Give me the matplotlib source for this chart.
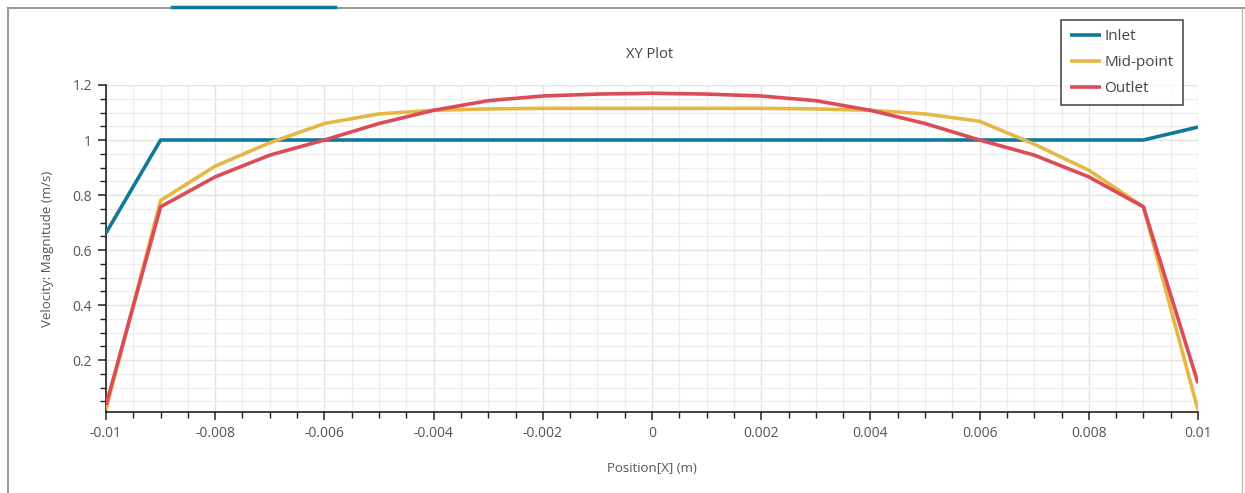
import matplotlib
matplotlib.use("Agg")
import matplotlib.pyplot as plt
from matplotlib.ticker import MultipleLocator, FuncFormatter
from matplotlib.lines import Line2D

plt.rcParams['font.family'] = ['Open Sans', 'DejaVu Sans']

position = [-0.010, -0.009, -0.008, -0.007, -0.006, -0.005, -0.004, -0.003, -0.002, -0.001, 0.000,
            0.001, 0.002, 0.003, 0.004, 0.005, 0.006, 0.007, 0.008, 0.009, 0.010]
inlet = [0.662, 1.0, 1.0, 1.0, 1.0, 1.0, 1.0, 1.0, 1.0, 1.0, 1.0,
         1.0, 1.0, 1.0, 1.0, 1.0, 1.0, 1.0, 1.0, 1.0, 1.047]
midpoint = [0.02, 0.78, 0.905, 0.99, 1.06, 1.095, 1.108, 1.113, 1.115, 1.115, 1.115,
            1.115, 1.115, 1.113, 1.108, 1.095, 1.068, 0.985, 0.89, 0.757, 0.018]
outlet = [0.036, 0.757, 0.866, 0.945, 1.0, 1.06, 1.108, 1.143, 1.16, 1.167, 1.17,
          1.167, 1.16, 1.143, 1.108, 1.06, 1.0, 0.945, 0.866, 0.757, 0.116]
series_names = ["Inlet", "Mid-point", "Outlet"]
series_colors = ["#12789a", "#e5b845", "#dc4c57"]

W, H = 1245, 493
fig = plt.figure(figsize=(W / 100, H / 100), dpi=100)

# screenshot frame
fig.add_artist(Line2D([8 / W, 8 / W], [0, 1 - 8 / H], color="#9a9a9a", lw=1.5))
fig.add_artist(Line2D([8 / W, 1], [1 - 8 / H, 1 - 8 / H], color="#9a9a9a", lw=1.5))
fig.add_artist(Line2D([1242 / W, 1242 / W], [0, 1 - 8 / H], color="#bbbbbb", lw=1.0))
fig.add_artist(Line2D([172 / W, 335 / W], [1 - 7 / H, 1 - 7 / H], color="#12789a", lw=2.5))

ax = fig.add_axes([106 / W, 1 - 412 / H, (1198 - 106) / W, (412 - 85) / H])

lines = []
for vals, name, col in zip([inlet, midpoint, outlet], series_names, series_colors):
    ln, = ax.plot(position, vals, color=col, lw=2.6, label=name, solid_capstyle="butt", zorder=3)
    lines.append(ln)

ax.set_xlim(-0.01, 0.01)
ax.set_ylim(0.011, 1.2)
ax.xaxis.set_major_locator(MultipleLocator(0.002))
ax.xaxis.set_minor_locator(MultipleLocator(0.0005))
ax.yaxis.set_major_locator(MultipleLocator(0.2))
ax.yaxis.set_minor_locator(MultipleLocator(0.05))

def xfmt(v, p):
    s = f"{v:.3f}".rstrip("0").rstrip(".")
    if s in ("-0", "0"):
        return "0"
    return s

def yfmt(v, p):
    s = f"{v:.1f}".rstrip("0").rstrip(".")
    return s

ax.xaxis.set_major_formatter(FuncFormatter(xfmt))
ax.yaxis.set_major_formatter(FuncFormatter(yfmt))

ax.grid(True, which="major", color="#e3e3e3", lw=1.0)
ax.grid(True, which="minor", color="#eeeeee", lw=0.9)
ax.set_axisbelow(True)

for s in ["top", "right"]:
    ax.spines[s].set_visible(False)
for s in ["left", "bottom"]:
    ax.spines[s].set_color("#222222")
    ax.spines[s].set_linewidth(1.2)

ax.tick_params(which="major", length=6, width=1.1, color="#222222", labelsize=10, labelcolor="#555555", pad=4)
ax.tick_params(which="minor", length=4, width=1.0, color="#222222")

ax.set_xlabel("Position[X] (m)", fontsize=9.5, color="#555555", labelpad=15)
ax.set_ylabel("Velocity: Magnitude (m/s)", fontsize=9.5, color="#555555", labelpad=13)
fig.text(650 / W, 1 - 55 / H, "XY Plot", ha="center", va="center", fontsize=10.5, color="#444444")

leg = fig.legend(handles=lines, labels=series_names, loc="upper left",
                 bbox_to_anchor=(1061 / W, 1 - 20 / H), frameon=True, fancybox=False,
                 edgecolor="#222222", fontsize=11, handlelength=2.0, handletextpad=0.25,
                 labelspacing=0.72, borderpad=0.6, borderaxespad=0)
leg.get_frame().set_linewidth(1.2)
for t in leg.get_texts():
    t.set_color("#444444")

fig.savefig("out.png", dpi=100)
